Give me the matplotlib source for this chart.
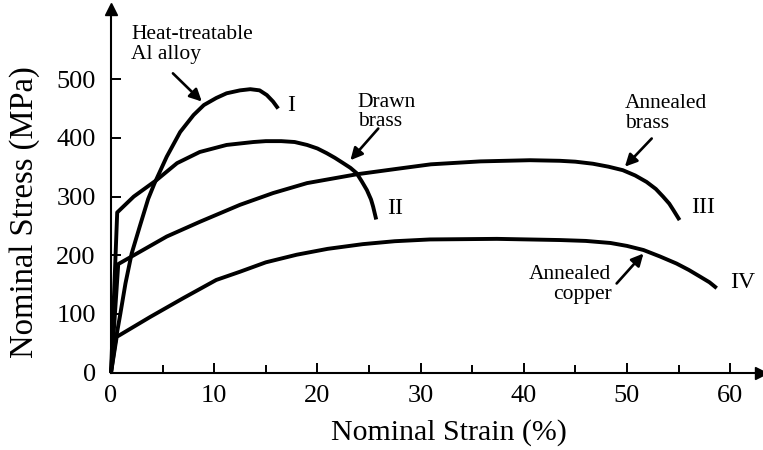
import matplotlib
matplotlib.use("Agg")
import matplotlib.pyplot as plt

plt.rcParams['font.family'] = ['Liberation Serif', 'DejaVu Serif']

# Curve I: heat-treatable Al alloy
al_strain = [0, 0.4, 0.9, 1.4, 2.0, 2.8, 3.6, 4.2, 5.4, 6.7, 8.0, 9.0, 10.2, 11.2, 12.5, 13.5, 14.4, 15.1, 15.7, 16.2]
al_stress = [0, 50, 100, 152, 203, 250, 296, 322, 368, 410, 439, 456, 468, 476, 481, 483, 481, 473, 462, 450]

# Curve II: drawn brass
db_strain = [0, 0.6, 2.2, 4.4, 6.4, 8.6, 11.2, 13.8, 15.0, 16.5, 17.8, 19.0, 20.0, 20.9, 21.7, 22.5, 23.2, 23.8, 24.3, 24.8, 25.2, 25.4, 25.7]
db_stress = [0, 273, 300, 328, 357, 376, 388, 393, 394.5, 394.5, 393, 388, 382, 374, 366, 357, 349, 340, 326, 311, 295, 283, 261]

# Curve III: annealed brass
ab_strain = [0, 0.7, 5.4, 8.6, 12.5, 15.7, 19.0, 23.8, 28.0, 31.0, 35.8, 40.6, 43.5, 45.0, 46.7, 48.2, 49.6, 50.8, 51.9, 52.8, 53.5, 54.1, 54.5, 55.1]
ab_stress = [0, 185, 232, 257, 286, 306, 323, 338, 348, 355, 360, 362, 361, 359.5, 356, 351, 345, 336, 325, 313, 300, 288, 277, 260]

# Curve IV: annealed copper
ac_strain = [0, 0.55, 3.8, 7.0, 10.2, 12.5, 15.0, 18.0, 21.0, 24.4, 27.5, 30.9, 37.4, 43.5, 46.0, 48.4, 50.0, 51.6, 53.2, 54.8, 56.0, 57.1, 58.0, 58.7]
ac_stress = [0, 61, 95, 127, 158, 172, 188, 201, 211, 219, 224, 227, 228, 226, 224.5, 221, 216, 209, 198, 186, 175, 163.5, 154, 144]

x_ticks = [0, 10, 20, 30, 40, 50, 60]
y_ticks = [0, 100, 200, 300, 400, 500]

fig = plt.figure(figsize=(7.63, 4.5), dpi=100)
ax = fig.add_axes([0.1455, 0.1718, 0.852, 0.8087])

lw = 2.8
for xs, ys in [(al_strain, al_stress), (db_strain, db_stress), (ab_strain, ab_stress), (ac_strain, ac_stress)]:
    ax.plot(xs, ys, color='black', lw=lw, solid_joinstyle='round', solid_capstyle='butt', clip_on=False)

ax.set_xlim(0, 63)
ax.set_ylim(0, 620)
ax.spines['top'].set_visible(False)
ax.spines['right'].set_visible(False)
for s in ['left', 'bottom']:
    ax.spines[s].set_linewidth(1.5)

# axis arrows
ax.plot(1, 0, '>k', ms=9, transform=ax.get_yaxis_transform(), clip_on=False)
ax.plot(0, 1, '^k', ms=9, transform=ax.get_xaxis_transform(), clip_on=False)

ax.set_xticks(x_ticks)
ax.set_xticks([5, 15, 25, 35, 45, 55], minor=True)
ax.set_yticks(y_ticks)
ax.tick_params(axis='both', which='major', direction='in', length=7.5, width=1.4, labelsize=19)
ax.tick_params(axis='x', which='minor', direction='in', length=5.5, width=1.4)
ax.tick_params(axis='x', which='major', pad=9)
ax.tick_params(axis='y', which='major', pad=11)

fig.text(448.5 / 763, 1 - 433 / 450, 'Nominal Strain (%)', fontsize=21.5, ha='center', va='center')
fig.text(25 / 763, 1 - 212 / 450, 'Nominal Stress (MPa)', fontsize=23.5, ha='center', va='center', rotation=90)

# Roman numerals
rn = dict(fontsize=17, ha='left', va='center')
ax.text(17.1, 455, 'I', **rn)
ax.text(26.8, 280, 'II', **rn)
ax.text(56.2, 281, 'III', **rn)
ax.text(60.0, 154, 'IV', **rn)

ann = dict(fontsize=15.5, linespacing=1.05)
ap = dict(arrowstyle='-|>', color='black', lw=1.9, mutation_scale=18, shrinkA=0, shrinkB=0)

ax.text(1.95, 559, 'Heat-treatable\nAl alloy', ha='left', va='center', multialignment='left', **ann)
ax.annotate('', xy=(8.8, 462), xytext=(6.0, 510), arrowprops=ap)

ax.text(23.9, 444, 'Drawn\nbrass', ha='left', va='center', multialignment='left', **ann)
ax.annotate('', xy=(23.2, 362), xytext=(25.9, 416), arrowprops=ap)

ax.text(49.8, 441, 'Annealed\nbrass', ha='left', va='center', multialignment='left', **ann)
ax.annotate('', xy=(49.8, 351), xytext=(52.4, 399), arrowprops=ap)

ax.text(48.5, 150, 'Annealed\ncopper', ha='right', va='center', multialignment='right', **ann)
ax.annotate('', xy=(51.6, 203), xytext=(49.0, 152), arrowprops=ap)

fig.savefig('out.png', dpi=100)
